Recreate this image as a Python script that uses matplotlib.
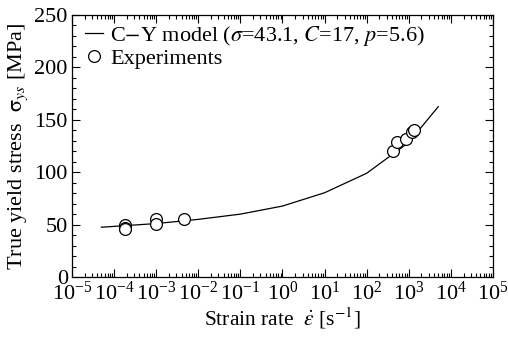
import matplotlib
matplotlib.use("Agg")
import matplotlib.pyplot as plt
from matplotlib.ticker import LogLocator, MultipleLocator

plt.rcParams["font.family"] = ["Liberation Serif", "DejaVu Serif"]
plt.rcParams["mathtext.fontset"] = "stix"
plt.rcParams["font.size"] = 16

# Cowper-Symonds style model curve, sampled per decade
model_rate = [5e-5, 1e-4, 1e-3, 1e-2, 1e-1, 1e0, 1e1, 1e2, 1e3, 5e3]
model_stress = [47.5, 48.3, 51.0, 55.0, 60.0, 67.7, 80.4, 99.0, 128.5, 162.5]

# measured yield stress
exp_rate = [1.8e-4, 1.8e-4, 1.8e-4, 1.0e-3, 1.0e-3, 4.7e-3, 430, 515, 850, 1170, 1320]
exp_stress = [49.5, 46.8, 46.0, 55.3, 50.3, 55.0, 120.5, 128.5, 131.4, 138.6, 140.2]

fig = plt.figure(figsize=(5.08, 3.43), dpi=100)
ax = fig.add_axes([0.1417, 0.1924, 0.8288, 0.7639])

ax.plot(model_rate, model_stress, color="black", lw=0.9,
        label=r"C$-$Y model ($\sigma$=43.1, $C$=17, $p$=5.6)")
ax.plot(exp_rate, exp_stress, ls="none", marker="o", ms=8.5, mfc="white",
        mec="black", mew=0.9, label="Experiments")

ax.set_xscale("log")
ax.set_xlim(1e-5, 1e5)
ax.set_ylim(0, 250)
ax.xaxis.set_major_locator(LogLocator(base=10, numticks=20))
ax.xaxis.set_minor_locator(LogLocator(base=10, subs=range(2, 10), numticks=20))
ax.yaxis.set_major_locator(MultipleLocator(50))
ax.yaxis.set_minor_locator(MultipleLocator(10))
ax.tick_params(which="both", direction="in", top=True, right=True, width=0.8)
ax.tick_params(which="major", length=6, labelsize=16, pad=3)
ax.tick_params(which="minor", length=3)
for s in ax.spines.values():
    s.set_linewidth(0.9)

ax.set_xlabel(r"Strain rate  $\dot{\varepsilon}$ [s$^{-1}$]", fontsize=15.5, labelpad=1)
ax.set_ylabel(r"True yield stress  $\mathrm{\sigma}_{ys}$ [MPa]", fontsize=16, labelpad=3)

ax.legend(loc="upper left", bbox_to_anchor=(0.022, 0.98), frameon=False,
          fontsize=16, handlelength=0.85, handletextpad=0.3, borderaxespad=0,
          labelspacing=0.05, borderpad=0.15)

fig.savefig("out.png", dpi=100)
